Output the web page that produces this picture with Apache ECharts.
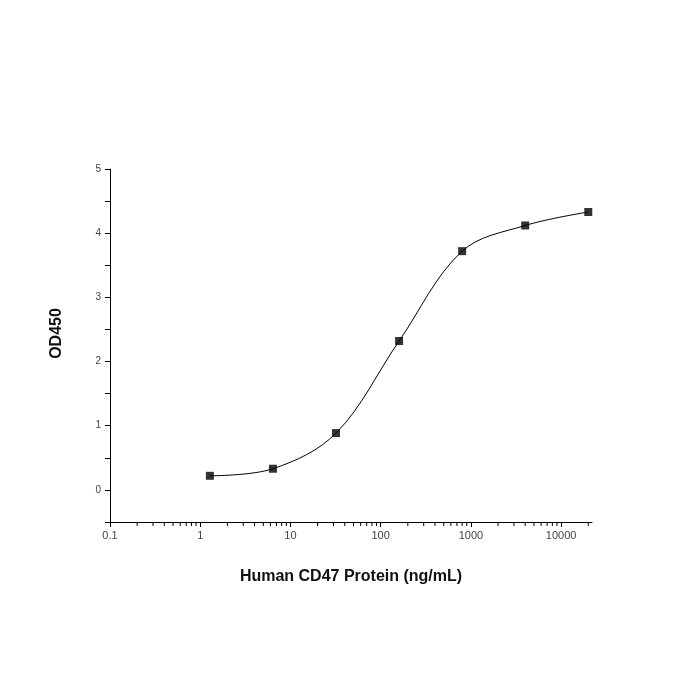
<!DOCTYPE html>
<html><head><meta charset="utf-8">
<script src="https://cdn.jsdelivr.net/npm/echarts@6/dist/echarts.min.js"></script>
<style>html,body{margin:0;padding:0;background:#fff}#c{width:700px;height:700px}</style>
</head><body><div id="c"></div>
<script>
const concentrations = [1.28, 6.4, 32, 160, 800, 4000, 20000];
const od450 = [0.22, 0.33, 0.885, 2.32, 3.72, 4.12, 4.33];
const xMinorTicks = [];
[0.1, 1, 10, 100, 1000, 10000].forEach(d => { for (let k = 2; k <= 9; k++) { const v = d * k; if (v <= 22000) xMinorTicks.push(v); } });
const xTitle = 'Human CD47 Protein (ng/mL)';
const yTitle = 'OD450';

const pts = concentrations.map((c, i) => [c, od450[i]]);
const chart = echarts.init(document.getElementById('c'));
chart.setOption({
  animation: false,
  backgroundColor: '#fff',
  grid: { left: 110, right: 108, top: 169, bottom: 178 },
  xAxis: {
    type: 'log', logBase: 10, min: 0.1, max: 22000,
    name: xTitle, nameLocation: 'middle', nameGap: 47,
    nameTextStyle: { fontFamily: 'Liberation Sans, Arial', fontWeight: 'bold', fontSize: 16, color: '#111' },
    axisLine: { onZero: false, lineStyle: { color: '#000', width: 1 } },
    axisTick: { inside: false, length: 5, lineStyle: { color: '#000' } },
    splitLine: { show: false },
    axisLabel: {
      color: '#444', fontSize: 11, fontFamily: 'Liberation Sans, Arial', margin: 8,
      showMaxLabel: false,
      formatter: v => { const l = Math.log10(v); return Math.abs(l - Math.round(l)) < 1e-6 ? String(+v.toPrecision(6)) : ''; }
    }
  },
  yAxis: {
    type: 'value', min: -0.5, max: 5, interval: 0.5,
    name: yTitle, nameLocation: 'middle', nameGap: 45, nameRotate: 90,
    nameTextStyle: { fontFamily: 'Liberation Sans, Arial', fontWeight: 'bold', fontSize: 16, color: '#111', padding: [0, 0, 0, 24] },
    axisLine: { show: true, onZero: false, lineStyle: { color: '#000', width: 1 } },
    axisTick: { show: true, length: 5, lineStyle: { color: '#000' } },
    splitLine: { show: false },
    axisLabel: {
      color: '#444', fontSize: 10, fontFamily: 'Liberation Sans, Arial', margin: 9,
      formatter: v => (Math.abs(v - Math.round(v)) < 1e-6 && v >= 0) ? String(Math.round(v)) : ''
    }
  },
  series: [
    {
      type: 'custom', silent: true, clip: false,
      data: xMinorTicks,
      encode: { x: 0 },
      renderItem: (params, api) => {
        const p = api.coord([api.value(0), -0.5]);
        return { type: 'line', shape: { x1: p[0], y1: p[1], x2: p[0], y2: p[1] + 4 }, style: { stroke: '#000', lineWidth: 1 } };
      }
    },
    {
      type: 'line', data: pts, smooth: 0.35, showSymbol: false,
      lineStyle: { color: '#000', width: 1 }, z: 2
    },
    {
      type: 'scatter', data: pts, symbol: 'rect', symbolSize: 8,
      itemStyle: { color: '#000' }, z: 3
    }
  ]
});
</script></body></html>
